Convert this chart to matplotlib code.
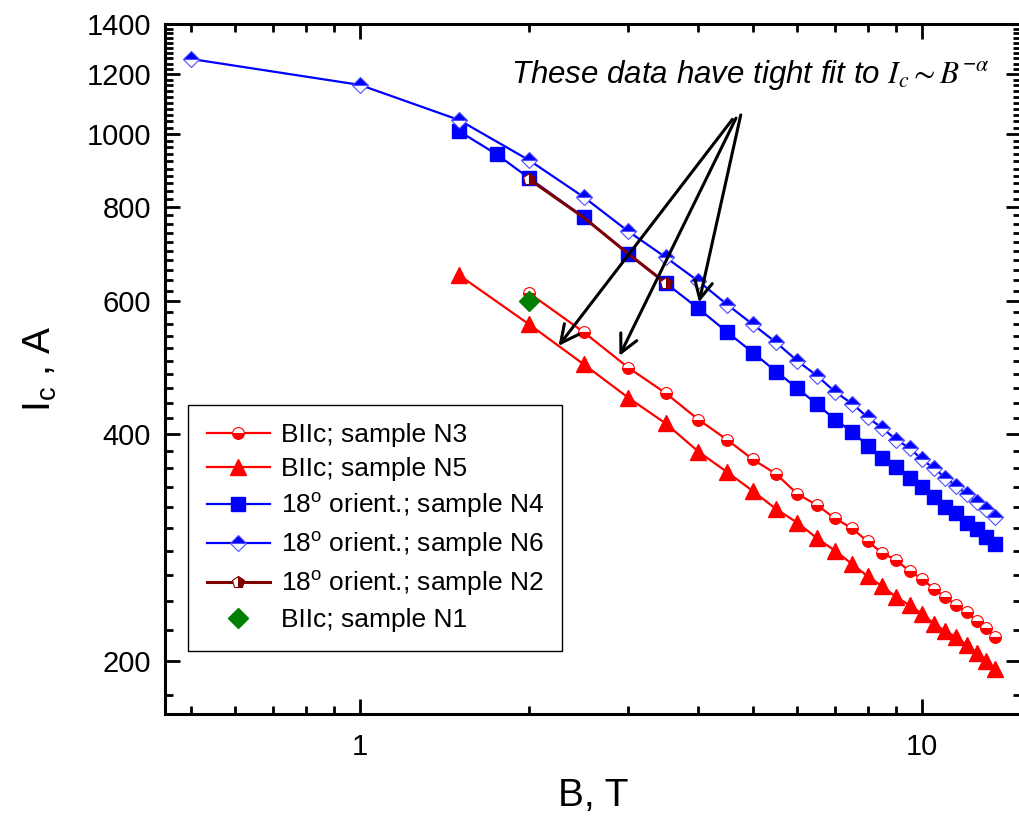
import matplotlib
matplotlib.use('Agg')
import matplotlib.pyplot as plt
from matplotlib.ticker import FixedLocator, FixedFormatter, MultipleLocator, NullFormatter, LogLocator

plt.rcParams['font.family'] = 'Liberation Sans'
plt.rcParams['mathtext.fontset'] = 'custom'
plt.rcParams['mathtext.rm'] = 'Liberation Sans'
plt.rcParams['mathtext.it'] = 'Liberation Sans:italic'

# sample N6, 18 deg orientation
B_n6 = [0.5, 1, 1.5, 2, 2.5, 3, 3.5, 4, 4.5, 5, 5.5, 6, 6.5, 7, 7.5, 8, 8.5, 9, 9.5,
        10, 10.5, 11, 11.5, 12, 12.5, 13, 13.5]
Ic_n6 = [1258, 1162, 1044, 923, 825, 743, 686, 638, 594, 559, 529, 500, 478, 455, 439,
         421, 407, 393, 383, 370, 360, 350, 341, 333, 325, 318, 310]

# sample N4, 18 deg orientation
B_n4 = [1.5, 1.75, 2, 2.5, 3, 3.5, 4, 4.5, 5, 5.5, 6, 6.5, 7, 7.5, 8, 8.5, 9, 9.5,
        10, 10.5, 11, 11.5, 12, 12.5, 13, 13.5]
Ic_n4 = [1009, 940, 874, 776, 693, 634, 587, 546, 513, 484, 460, 438, 418, 403, 386,
         372, 362, 350, 340, 330, 320, 314, 305, 299, 292, 286]

# sample N3, B||c
B_n3 = [2, 2.5, 3, 3.5, 4, 4.5, 5, 5.5, 6, 6.5, 7, 7.5, 8, 8.5, 9, 9.5,
        10, 10.5, 11, 11.5, 12, 12.5, 13, 13.5]
Ic_n3 = [615, 546, 490, 453, 418, 393, 370, 354, 333, 322, 309, 300, 288, 278, 272,
         263, 257, 249, 243, 237, 232, 226, 221, 215]

# sample N5, B||c
B_n5 = [1.5, 2, 2.5, 3, 3.5, 4, 4.5, 5, 5.5, 6, 6.5, 7, 7.5, 8, 8.5, 9, 9.5,
        10, 10.5, 11, 11.5, 12, 12.5, 13, 13.5]
Ic_n5 = [650, 559, 495, 447, 413, 379, 356, 336, 318, 305, 291, 280, 269, 259, 251,
         243, 237, 231, 224, 219, 215, 210, 205, 200, 195]

# sample N2, 18 deg orientation
B_n2 = [2, 2.5, 3, 3.5]
Ic_n2 = [871, 775, 694, 634]

# sample N1, B||c
B_n1 = [2]
Ic_n1 = [600]

fig = plt.figure(figsize=(10.19, 8.25), dpi=100)
ax = fig.add_axes([0.162, 0.1345, 0.840, 0.8365])

ax.plot(B_n3, Ic_n3, '-o', color='red', lw=1.6, ms=8.5, fillstyle='bottom',
        markerfacecoloralt='white', mec='red', mew=0.8, label='BIIc; sample N3')
ax.plot(B_n5, Ic_n5, '-^', color='red', lw=1.6, ms=12, mec='red',
        label='BIIc; sample N5')
ax.plot(B_n4, Ic_n4, '-s', color='blue', lw=1.6, ms=10, mec='blue',
        label='18$^\\mathrm{o}$ orient.; sample N4')
ax.plot(B_n6, Ic_n6, '-D', color='blue', lw=1.6, ms=8.5, fillstyle='top',
        markerfacecoloralt='white', mec='#4d4dff', mew=0.8,
        label='18$^\\mathrm{o}$ orient.; sample N6')
ax.plot(B_n2, Ic_n2, '-p', color='#800000', lw=2.2, ms=9, fillstyle='right',
        markerfacecoloralt='white', mec='#800000', mew=0.8, markevery=[0, 3],
        label='18$^\\mathrm{o}$ orient.; sample N2')
ax.plot(B_n1, Ic_n1, 'D', color='#008000', ms=10, ls='none',
        label='BIIc; sample N1')

ax.set_xscale('log')
ax.set_yscale('log')
ax.set_xlim(0.45, 15)
ax.set_ylim(170, 1400)

ax.xaxis.set_major_locator(FixedLocator([1, 10]))
ax.xaxis.set_major_formatter(FixedFormatter(['1', '10']))
ax.xaxis.set_minor_locator(LogLocator(base=10, subs=range(2, 10)))
ax.xaxis.set_minor_formatter(NullFormatter())

yt = [200, 400, 600, 800, 1000, 1200, 1400]
ax.yaxis.set_major_locator(FixedLocator(yt))
ax.yaxis.set_major_formatter(FixedFormatter([str(v) for v in yt]))
ax.yaxis.set_minor_locator(MultipleLocator(20))
ax.yaxis.set_minor_formatter(NullFormatter())

ax.tick_params(which='both', direction='in', top=True, right=True, width=2)
ax.tick_params(which='major', length=11, labelsize=21)
ax.tick_params(axis='y', which='major', pad=10)
ax.tick_params(axis='x', which='major', pad=14)
ax.tick_params(which='minor', length=6)
for s in ax.spines.values():
    s.set_linewidth(2.2)

ax.set_xlabel('B, T', fontsize=28, labelpad=12)
ax.set_ylabel('I$_\\mathrm{c}$ , A', fontsize=28, labelpad=20)

leg = ax.legend(loc='upper left', bbox_to_anchor=(0.027, 0.448), borderaxespad=0,
                fontsize=19, fancybox=False, edgecolor='black', framealpha=1,
                handlelength=2.4, labelspacing=0.38, handletextpad=0.4,
                borderpad=0.7, numpoints=1)
leg.get_frame().set_linewidth(1.0)

ax.text(1.86, 1198, 'These data have tight fit to $I_c{\\sim}B^{\\mathregular{-}\\alpha}$',
        fontsize=22.5, style='italic', ha='left', va='center', math_fontfamily='stix')

heads = [(2.24, 520), (2.88, 504), (4.0, 593)]
tails = [(4.63, 1053), (4.69, 1058), (4.77, 1069)]
for h, t in zip(heads, tails):
    ax.annotate('', xy=h, xytext=t,
                arrowprops=dict(arrowstyle='->', lw=2.2, color='black', mutation_scale=32))

fig.savefig('out.png', dpi=100)
